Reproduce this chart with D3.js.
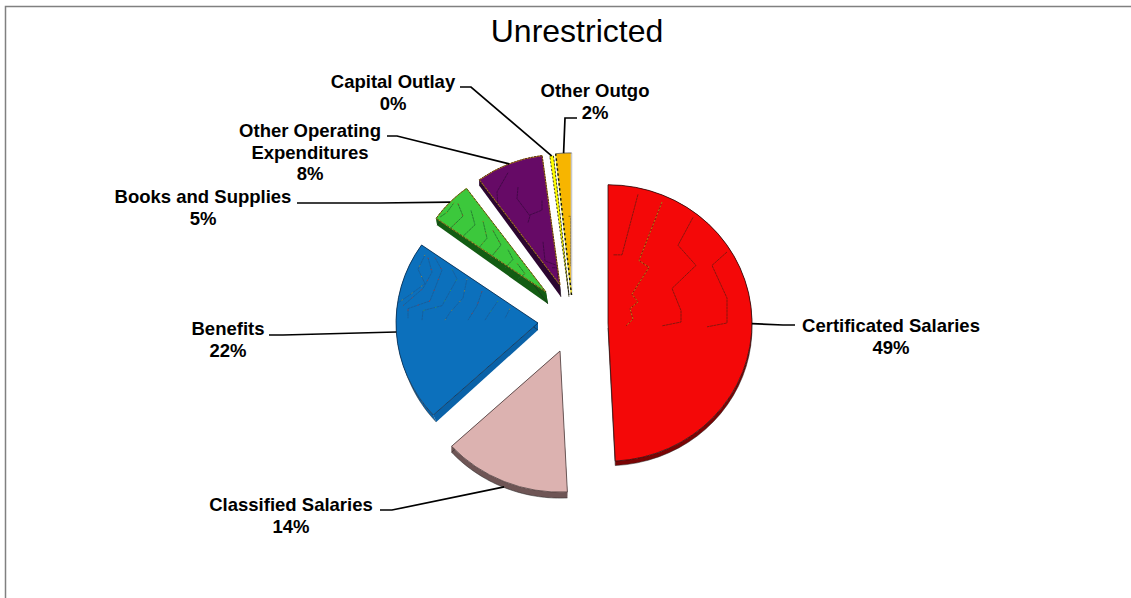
<!DOCTYPE html>
<html>
<head>
<meta charset="utf-8">
<script src="https://cdn.jsdelivr.net/npm/d3@7"></script>
<style>
  html, body { margin: 0; padding: 0; background: #fff; }
  svg { display: block; }
  text { font-family: "Liberation Sans", Arial, sans-serif; fill: #000; }
</style>
</head>
<body>
<svg id="chart" width="1131" height="598"></svg>
<script>
// Budget shares, in percent
const categories = ["Certificated Salaries", "Classified Salaries", "Benefits", "Books and Supplies",
                    "Other Operating Expenditures", "Capital Outlay", "Other Outgo"];
const shares = [49.2, 14.0, 21.5, 5.2, 8.0, 0.4, 1.7];
const chartTitle = "Unrestricted";

// Styling per slice
const faceColors = ["#f40808", "#dcb2b0", "#0c70bc", "#3cc83c", "#660a66", "#ffff00", "#f7b500"];
const sideColors = ["#7a0404", "#6e5555", "#0a62a8", "#135c13", "#2c0630", "#8a8a20", "#f7b500"];
const edgeColors = ["#2a0a0a", "#4a3a3a", "#0a2a4a", "#1a4a1a", "#2a1a10", "#111111", "#333333"];
const edgeDashes = ["none", "none", "none", "3 1", "2 1", "2 2", "none"];

// Offset of each pulled-out slice from the pie centre, and its radius
const explode = [[36, 1], [-12, 29], [-34, 1], [-26, -30], [-12, -37], [-3, -27], [-0.5, -27]];
const radii = [144, 147, 142, 134, 136, 146, 148];
const pieCenter = [572, 322];
const squash = 0.96;

// Extrusion of each slice: offset at the rim and offset at the tip
const rimDepth = [[0, 4.5], [0, 6], [3, 7], [1, 7], [0, 6], [0, 1], [0, 0]];
const tipDepth = [[0, 5], [0, 6], [0, 7], [2, 12], [1, 12], [0, 2], [0, 0]];

// Leader elbows and label placement
const leaderBends = [[[783, 325], [795, 325]], [[392, 510], [380, 510]], [[283, 335], [269, 335]],
                     [[380, 203], [297, 203]], [[397, 136], [387, 136]], [[471, 87], [460, 87]],
                     [[565, 118], [577, 118]]];
const labelLines = [["Certificated Salaries"], ["Classified Salaries"], ["Benefits"], ["Books and Supplies"],
                    ["Other Operating", "Expenditures"], ["Capital Outlay"], ["Other Outgo"]];
const labelAnchors = [[891, 332], [291, 511], [228, 335], [203, 203], [310, 137], [393, 88], [595, 97]];

// Thin zigzag seams on the slice faces, relative to the slice tip
const seams = [
  [[[30,-134],[14,-71],[5,-71]],
   [[54,-126],[31,-65],[41,-58],[24,-30],[30,-22],[22,-15],[25,-4],[18,3]],
   [[85,-110],[70,-81],[88,-60],[64,-36],[73,-13],[73,-1],[54,3]],
   [[119,-74],[104,-60],[119,-26],[119,0],[99,4]]],
  [],
  [[[-113,-71],[-120,-56],[-113,-41],[-130,-28],[-140,-21]],
   [[-103,-68],[-96,-55],[-108,-23],[-130,-15],[-130,-5]],
   [[-86,-56],[-81,-46],[-96,-18],[-115,-13],[-116,-3]],
   [[-71,-46],[-75,-26],[-88,-11],[-93,-3]],
   [[-56,-33],[-61,-18],[-70,-3]],
   [[-40,-23],[-50,-8],[-53,-3]],
   [[-28,-15],[-33,-5]],
   [[-110,-68],[-106,-53],[-115,-36],[-135,-18]]],
  [[[-92,-93],[-99,-83],[-106,-78]],
   [[-88,-92],[-83,-79],[-97,-65]],
   [[-75,-85],[-71,-70],[-83,-58]],
   [[-63,-74],[-59,-56],[-68,-45]],
   [[-53,-64],[-45,-49],[-56,-35]],
   [[-38,-44],[-33,-34],[-41,-25]],
   [[-29,-30],[-21,-19],[-28,-14]]],
  [[[-52,-117],[-63,-97],[-62,-80]],
   [[-42,-102],[-43,-90],[-30,-72],[-32,-65]],
   [[-18,-88],[-18,-78],[-30,-73]],
   [[-17,-45],[-15,-25],[-2,-20]],
   [[-8,-18],[-3,-18],[-2,-7]]],
  [],
  [[[-3,-82],[-1,-82],[-1,-30]]]
];
const seamColors = ["#6a1a10", "#000", "#1a5a94", "#1f6a2a", "#38083f", "#000", "#7a5a10"];
const seamAccents = ["#c8a018", "#d03020", "#38b050"];

const svg = d3.select("#chart");

// Outer frame along the top and the left
svg.append("path")
  .attr("d", d3.line()([[1131, 6.5], [5.5, 6.5], [5.5, 598]]))
  .attr("fill", "none").attr("stroke", "#808080").attr("stroke-width", 1.5);

svg.append("text")
  .attr("x", 577).attr("y", 42)
  .attr("text-anchor", "middle").attr("font-size", 32)
  .text(chartTitle);

const pie = d3.pie().sort(null).value(d => d).startAngle(0).endAngle(2 * Math.PI);
const arcs = pie(shares);
const line = d3.line();

// Slice tip after pulling it away from the pie centre
const tipOf = (d, i) => [pieCenter[0] + explode[i][0], pieCenter[1] + explode[i][1]];
const rimPoint = (tip, r, a) => [tip[0] + r * Math.sin(a), tip[1] - r * squash * Math.cos(a)];
const shift = (p, o) => [p[0] + o[0], p[1] + o[1]];

const slices = svg.append("g").selectAll("g").data(arcs).join("g");

slices.each(function (d, i) {
  const g = d3.select(this);
  const tip = tipOf(d, i);
  const r = radii[i];
  const rim = d3.range(0, 41).map(k => rimPoint(tip, r, d.startAngle + (d.endAngle - d.startAngle) * k / 40));
  const rimLow = rim.map(p => shift(p, rimDepth[i]));
  const tipLow = shift(tip, tipDepth[i]);

  // Extruded sides: rim band and the two straight walls
  if (rimDepth[i][1] > 0) {
    const walls = [
      rim.concat(rimLow.slice().reverse()),
      [tip, rim[0], rimLow[0], tipLow],
      [tip, rim[40], rimLow[40], tipLow]
    ];
    g.selectAll("path.side").data(walls).join("path")
      .attr("class", "side")
      .attr("d", w => line(w) + "Z")
      .attr("fill", sideColors[i]);
    g.append("path")
      .attr("d", line(rimLow.concat([tipLow])))
      .attr("fill", "none").attr("stroke", "#222").attr("stroke-width", 0.5);
  }

  // Top face, with its seams and their sparse coloured flecks
  const face = g.append("g").attr("transform", `translate(${tip[0]},${tip[1]}) scale(1,${squash})`);
  const arcPath = d3.arc().innerRadius(0).outerRadius(r);
  face.append("path").attr("d", arcPath(d)).attr("fill", faceColors[i]);
  face.selectAll("path.seam").data(seams[i]).join("path")
    .attr("class", "seam")
    .attr("d", s => line(s))
    .attr("fill", "none")
    .attr("stroke", seamColors[i])
    .attr("stroke-width", 0.8)
    .attr("stroke-dasharray", "3 0.5");
  if (i === 2 || i === 3) {
    face.selectAll("path.fleck").data(seams[i]).join("path")
      .attr("class", "fleck")
      .attr("d", s => line(s))
      .attr("fill", "none")
      .attr("stroke", (s, k) => seamAccents[k % seamAccents.length])
      .attr("stroke-width", 0.7)
      .attr("stroke-dasharray", "1.2 11");
  }
  if (i === 0) {
    // Only the second seam of the large slice reads as yellow
    face.append("path")
      .attr("d", line(seams[0][1]))
      .attr("fill", "none")
      .attr("stroke", seamAccents[0])
      .attr("stroke-width", 0.8)
      .attr("stroke-dasharray", "2 2");
  }

  // Face outline; the back slices carry a speckled orange edge
  if (i === 6) {
    // The narrow end slice has a grey right edge and a stippled left edge
    g.append("path").attr("d", line([tip, rim[40]]))
      .attr("fill", "none").attr("stroke", "#c8c8c8").attr("stroke-width", 1.6);
    g.append("path").attr("d", line(rim))
      .attr("fill", "none").attr("stroke", "#333").attr("stroke-width", 0.8);
    g.append("path").attr("d", line([tip, rim[0]]))
      .attr("fill", "none").attr("stroke", "#e8d820").attr("stroke-width", 1.4);
    g.append("path").attr("d", line([tip, rim[0]]))
      .attr("fill", "none").attr("stroke", "#111").attr("stroke-width", 1.4)
      .attr("stroke-dasharray", "2.5 2.5");
  } else {
    if (i === 3 || i === 4) {
      face.append("path").attr("d", arcPath(d)).attr("fill", "none")
        .attr("stroke", "#d09020").attr("stroke-width", 1);
    }
    face.append("path").attr("d", arcPath(d)).attr("fill", "none")
      .attr("stroke", edgeColors[i])
      .attr("stroke-width", 0.8)
      .attr("stroke-dasharray", edgeDashes[i]);
  }
});

// Leader lines start at the middle of each slice's rim
svg.append("g").selectAll("path").data(arcs).join("path")
  .attr("d", (d, i) => {
    const mid = (d.startAngle + d.endAngle) / 2;
    const start = shift(rimPoint(tipOf(d, i), radii[i], mid), i < 2 ? rimDepth[i].map(v => v * 0.9) : [0, 0]);
    return line([start].concat(leaderBends[i]));
  })
  .attr("fill", "none").attr("stroke", "#000").attr("stroke-width", 1.7);

// Category name and rounded share
const labels = svg.append("g").selectAll("text").data(arcs).join("text")
  .attr("font-size", 18.5).attr("font-weight", "bold").attr("text-anchor", "middle")
  .attr("transform", (d, i) => `translate(${labelAnchors[i][0]},${labelAnchors[i][1]})`);

labels.selectAll("tspan")
  .data((d, i) => labelLines[i].concat(`${Math.round(shares[i])}%`))
  .join("tspan")
  .attr("x", 0)
  .attr("y", (t, k) => k * 21.5)
  .text(t => t);
</script>
</body>
</html>
